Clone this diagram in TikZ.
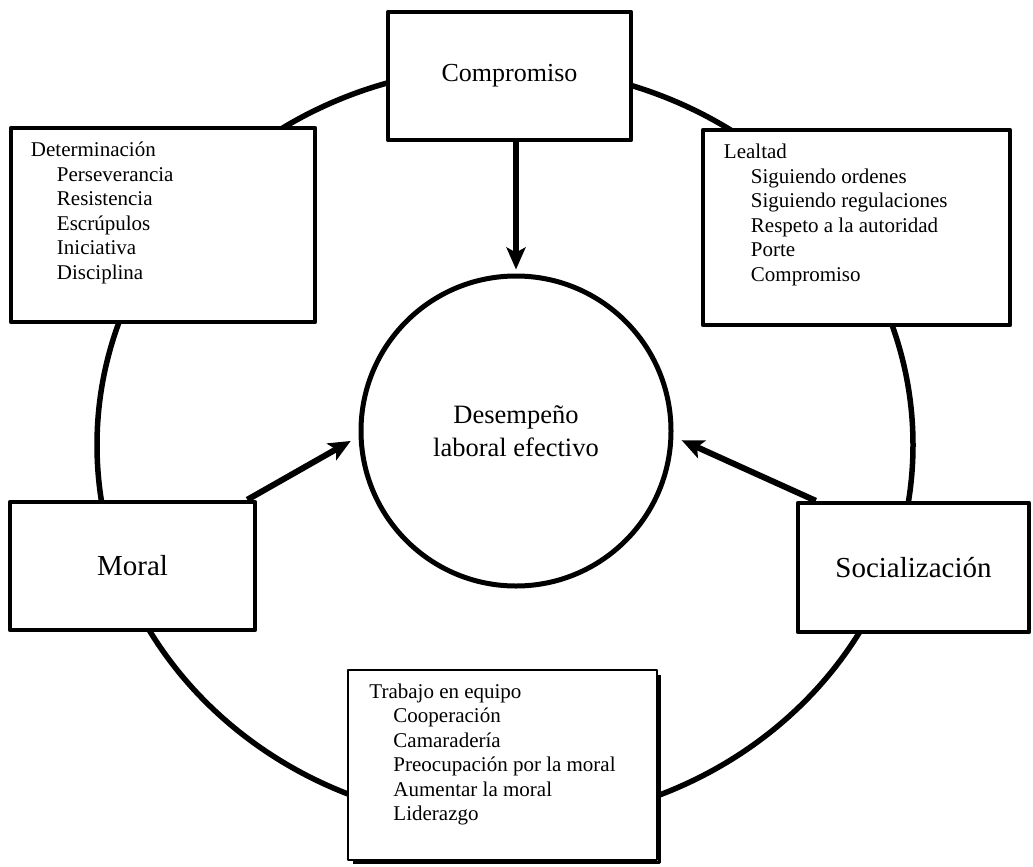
\documentclass[tikz,border=0pt]{standalone}
\usepackage{fontspec}
\setmainfont{Liberation Serif}
\usetikzlibrary{arrows.meta}
\usetikzlibrary{positioning}

\begin{document}
\begin{tikzpicture}[x=1pt, y=-1pt, >={Stealth[length=22pt,width=19pt,inset=5pt]}, line join=round,
  ring/.style={line width=5.5pt},
  core/.style={circle, draw, fill=white, line width=5pt, minimum size=310pt, inner sep=0pt, align=center, font=\fontsize{26.5}{33}\selectfont},
  bigbox/.style={rectangle, draw, fill=white, line width=4.5pt, inner sep=0pt},
  thinbox/.style={rectangle, draw, fill=white, line width=1.5pt, inner sep=0pt},
  listtext/.style={inner sep=0pt, align=left, font=\fontsize{21}{24.5}\selectfont},
  feed/.style={->, line width=6pt}]
  \useasboundingbox (0,0) rectangle (1033,867);

  % outer ring behind everything
  \coordinate (hub) at (505,445);
  \draw[ring] (hub) ellipse [x radius=408pt, y radius=378pt];

  \node[core] (core) at (516,431) {Desempeño\\laboral efectivo};

  \node[bigbox, minimum width=243pt, minimum height=128pt, font=\fontsize{26}{30}\selectfont] (comp) at (509.5,76) {Compromiso};
  \node[bigbox, minimum width=245pt, minimum height=128pt, font=\fontsize{29}{34}\selectfont] (moral) at (132.5,566) {Moral};
  \node[bigbox, minimum width=231pt, minimum height=129pt, font=\fontsize{29}{34}\selectfont] (soc) at (913.5,567.5) {Socialización};

  % list boxes
  \node[bigbox, minimum width=304pt, minimum height=194pt] (det) at (163,225) {};
  \node[listtext, below right=16pt and 22pt of det.north west] (detlist) {Determinación\\
    \hspace*{26pt}Perseverancia\\
    \hspace*{26pt}Resistencia\\
    \hspace*{26pt}Escrúpulos\\
    \hspace*{26pt}Iniciativa\\
    \hspace*{26pt}Disciplina};

  \node[bigbox, minimum width=307pt, minimum height=195pt] (loyal) at (856.5,227.5) {};
  \node[listtext, below right=16pt and 23pt of loyal.north west] (loyallist) {Lealtad\\
    \hspace*{27pt}Siguiendo ordenes\\
    \hspace*{27pt}Siguiendo regulaciones\\
    \hspace*{27pt}Respeto a la autoridad\\
    \hspace*{27pt}Porte\\
    \hspace*{27pt}Compromiso};

  \node[thinbox, minimum width=309pt, minimum height=190pt] (team) at (502.5,765) {};
  \draw[line width=3pt] ([xshift=2pt,yshift=-6pt]team.north east) |- ([xshift=6pt,yshift=-2pt]team.south west);
  \node[listtext, below right=14pt and 22pt of team.north west] (teamlist) {Trabajo en equipo\\
    \hspace*{24pt}Cooperación\\
    \hspace*{24pt}Camaradería\\
    \hspace*{24pt}Preocupación por la moral\\
    \hspace*{24pt}Aumentar la moral\\
    \hspace*{24pt}Liderazgo};

  % arrows into the centre
  \draw[feed, shorten >=4pt] (comp.south -| core.north) -- (core.north);
  \draw[feed, shorten >=9pt] ([xshift=-10pt]moral.north east) -- (core.182);
  \draw[feed, shorten >=9pt] ([xshift=20pt]soc.north west) -- (core.-2);
\end{tikzpicture}
\end{document}
